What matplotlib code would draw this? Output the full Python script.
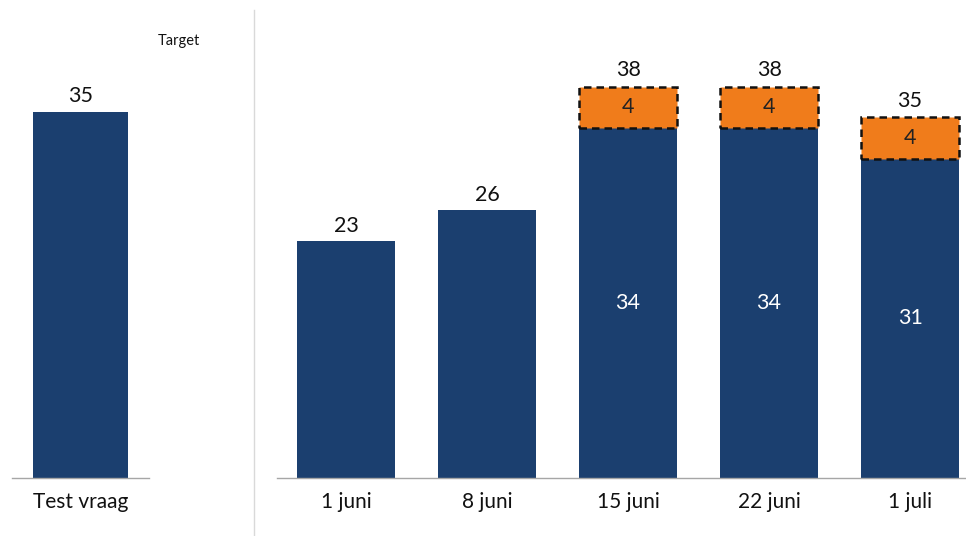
import matplotlib
matplotlib.use("Agg")
import matplotlib.pyplot as plt
from matplotlib.lines import Line2D

plt.rcParams['font.family'] = ['Lato', 'DejaVu Sans']

# ---- data ----
left_categories = ["Test vraag"]
left_values = [35]
left_note = "Target"

categories = ["1 juni", "8 juni", "15 juni", "22 juni", "1 juli"]
base_values = [23, 26, 34, 34, 31]
extra_values = [0, 0, 4, 4, 4]
total_labels = [23, 26, 38, 38, 35]

NAVY = "#1B3F6F"
ORANGE = "#F07C1B"
GRID = "#A6A6A6"

W, H = 966, 536
fig = plt.figure(figsize=(W / 100, H / 100), dpi=100)

def frac(x0, y0, x1, y1):
    return [x0 / W, 1 - y1 / H, (x1 - x0) / W, (y1 - y0) / H]

top_px, base_px = 10, 478
ax_h = base_px - top_px

# left panel
axl = fig.add_axes(frac(12, top_px, 149, base_px))
axl.bar(range(len(left_values)), left_values, width=0.70, color=NAVY, zorder=2)
axl.set_xlim(-0.5, 0.5)
axl.set_ylim(0, ax_h / 10.46)
for i, v in enumerate(left_values):
    axl.annotate(str(v), (i, v), xytext=(0, 4), textcoords="offset points",
                 ha="center", va="bottom", fontsize=15.5, color="#111111")
axl.set_xticks(range(len(left_categories)))
axl.set_xticklabels(left_categories, fontsize=15, color="#111111")
axl.tick_params(axis="x", length=0, pad=10)
axl.set_yticks([])
for s in ["top", "right", "left"]:
    axl.spines[s].set_visible(False)
axl.spines["bottom"].set_color(GRID)
axl.spines["bottom"].set_linewidth(1.0)
fig.text(158 / W, 1 - 41 / H, left_note, fontsize=10.5, color="#111111",
         ha="left", va="center")

# divider
fig.add_artist(Line2D([254 / W, 254 / W], [0, 1 - 10 / H], color="#D9D9D9",
                      linewidth=1.0))

# right panel
axr = fig.add_axes(frac(277, top_px, 966, base_px))
x = list(range(len(categories)))
axr.bar(x, base_values, width=0.70, color=NAVY, zorder=2)
for i, (b, e) in enumerate(zip(base_values, extra_values)):
    if e > 0:
        axr.bar(i, e, bottom=b, width=0.70, color=ORANGE, edgecolor="#111111",
                linewidth=1.8, linestyle=(0, (3, 2)), zorder=3)
        axr.text(i, b + e / 2, str(e), ha="center", va="center", fontsize=15.5,
                 color="#222222", zorder=4)
        axr.text(i, b / 2, str(b), ha="center", va="center", fontsize=15.5,
                 color="white", zorder=4)
    top = b + e
    axr.annotate(str(total_labels[i]), (i, top), xytext=(0, 4 if e == 0 else 5),
                 textcoords="offset points", ha="center", va="bottom",
                 fontsize=15.5, color="#111111")
axr.set_xlim(-0.49, -0.49 + 689 / 141)
axr.set_ylim(0, ax_h / 10.3)
axr.set_xticks(x)
axr.set_xticklabels(categories, fontsize=15, color="#111111")
axr.tick_params(axis="x", length=0, pad=10)
axr.set_yticks([])
for s in ["top", "right", "left"]:
    axr.spines[s].set_visible(False)
axr.spines["bottom"].set_color(GRID)
axr.spines["bottom"].set_linewidth(1.0)

fig.savefig("out.png", dpi=100)
